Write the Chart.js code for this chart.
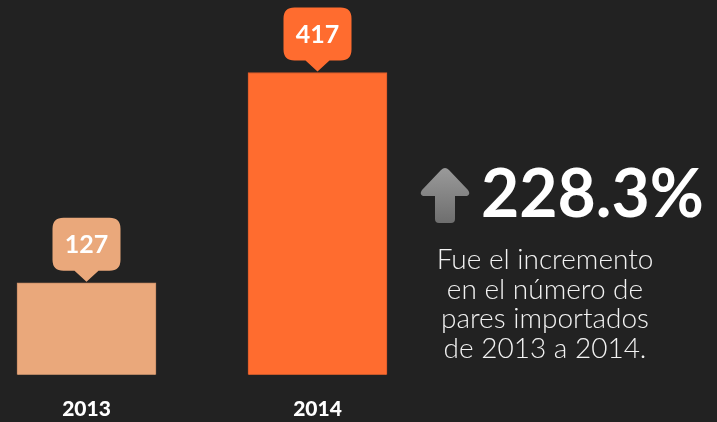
<!DOCTYPE html>
<html>
<head>
<meta charset="utf-8">
<script src="https://cdn.jsdelivr.net/npm/chart.js@4/dist/chart.umd.min.js"></script>
<style>
  html, body { margin: 0; padding: 0; background: #222222; }
  #wrap { position: relative; width: 717px; height: 422px; background: #222222; overflow: hidden; }
  #chart { position: absolute; left: 0; top: 0; }
  #arrow { position: absolute; left: 418px; top: 166px; }
  #pct { position: absolute; left: 481px; top: 159px; font: 700 66px Lato, sans-serif; line-height: 66px; color: #ffffff; white-space: nowrap; }
  #desc { position: absolute; left: 420px; width: 250px; top: 244px; text-align: center; font: 300 28px Lato, sans-serif; line-height: 29.7px; color: #f2f2f2; }
  #desc div { white-space: nowrap; }
</style>
</head>
<body>
<div id="wrap">
  <canvas id="chart" width="717" height="439"></canvas>
  <svg id="arrow" width="54" height="60" viewBox="0 0 54 60">
    <defs>
      <linearGradient id="ag" x1="0" y1="0" x2="0" y2="1">
        <stop offset="0" stop-color="#9a9a9a"/>
        <stop offset="1" stop-color="#6e6e6e"/>
      </linearGradient>
    </defs>
    <path d="M27 2 Q29 2 31 4 L50 24 Q53 28 49 30 L37 30 L37 53 Q37 57 33 57 L21 57 Q17 57 17 53 L17 30 L5 30 Q1 28 4 24 L23 4 Q25 2 27 2 Z" fill="url(#ag)"/>
  </svg>
  <div id="pct"></div>
  <div id="desc"></div>
</div>
<script>
const categories = ['2013', '2014'];
const importedPairs = [127, 417];
const increaseLabel = '228.3%';
const descriptionLines = ['Fue el incremento', 'en el número de', 'pares importados', 'de 2013 a 2014.'];

document.getElementById('pct').textContent = increaseLabel;
const desc = document.getElementById('desc');
descriptionLines.forEach(t => { const d = document.createElement('div'); d.textContent = t; desc.appendChild(d); });

const barColors = ['#eaa87b', '#ff6c2f'];
const barBorders = ['#c98d66', '#d9592a'];

const calloutPlugin = {
  id: 'callouts',
  afterDatasetsDraw(chart) {
    const ctx = chart.ctx;
    const meta = chart.getDatasetMeta(0);
    const data = chart.data.datasets[0].data;
    meta.data.forEach((bar, i) => {
      const cx = bar.x, top = bar.y;
      const w = 68, h = 53, r = 11, gap = 12;
      const bottom = top - gap;
      const left = cx - w / 2, ytop = bottom - h;
      ctx.save();
      ctx.fillStyle = barColors[i];
      ctx.beginPath();
      ctx.moveTo(left + r, ytop);
      ctx.lineTo(left + w - r, ytop);
      ctx.quadraticCurveTo(left + w, ytop, left + w, ytop + r);
      ctx.lineTo(left + w, bottom - r);
      ctx.quadraticCurveTo(left + w, bottom, left + w - r, bottom);
      ctx.lineTo(cx + 12, bottom);
      ctx.lineTo(cx, top - 1);
      ctx.lineTo(cx - 12, bottom);
      ctx.lineTo(left + r, bottom);
      ctx.quadraticCurveTo(left, bottom, left, bottom - r);
      ctx.lineTo(left, ytop + r);
      ctx.quadraticCurveTo(left, ytop, left + r, ytop);
      ctx.closePath();
      ctx.fill();
      ctx.fillStyle = '#ffffff';
      ctx.font = '700 25px Lato, sans-serif';
      ctx.textAlign = 'center';
      ctx.textBaseline = 'middle';
      ctx.fillText(String(data[i]), cx, ytop + h / 2 + 1);
      ctx.restore();
    });
  }
};

new Chart(document.getElementById('chart'), {
  type: 'bar',
  data: {
    labels: categories,
    datasets: [{
      data: importedPairs,
      backgroundColor: barColors,
      borderColor: barBorders,
      borderWidth: 1,
      barThickness: 139,
      clip: false
    }]
  },
  options: {
    responsive: false,
    animation: false,
    devicePixelRatio: 1,
    layout: { padding: { left: 86.5, right: 399.5, top: 0, bottom: 3 } },
    plugins: { legend: { display: false }, tooltip: { enabled: false } },
    scales: {
      x: {
        offset: false,
        grid: { display: false },
        border: { display: false },
        ticks: { color: '#ffffff', font: { family: 'Lato', weight: '900', size: 21 }, padding: 14, maxRotation: 0 }
      },
      y: {
        display: false,
        min: 0,
        max: 517
      }
    }
  },
  plugins: [calloutPlugin]
});
</script>
</body>
</html>
